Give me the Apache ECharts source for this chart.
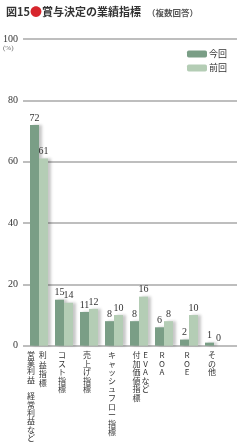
<!DOCTYPE html>
<html><head><meta charset="utf-8">
<script src="https://cdn.jsdelivr.net/npm/echarts@6/dist/echarts.min.js"></script>
<style>html,body{margin:0;padding:0;background:#fff}#c{width:252px;height:445px}</style>
</head><body><div id="c"></div>
<script>
// ---- data ----
var categories = ['利益指標', 'コスト指標', '売上げ指標', 'キャッシュフロー指標', 'EVAなど', 'ROA', 'ROE', 'その他'];
var subLabels = ['営業利益　経常利益など', '', '', '', '付加価値指標', '', '', ''];
var seriesNames = ['今回', '前回'];
var current = [72, 15, 11, 8, 8, 6, 2, 1];
var previous = [61, 14, 12, 10, 16, 8, 10, 0];
var yTicks = [0, 20, 40, 60, 80, 100];

var chart = echarts.init(document.getElementById('c'), null, {renderer: 'canvas'});
var narrow = 'Liberation Sans Narrow';
var jp = '"Noto Sans CJK JP"';

function vert(s, tag) {
  return s.split('').map(function (ch) { return '{' + tag + '|' + ch + '}'; }).join('\n');
}

var T = 39, B = 445 - 345.7;
var LF = 8, LH = 8.6;

chart.setOption({
  animation: false,
  title: {
    left: 1, top: 1,
    text: '{a|図15}{r|●}{a|賞与決定の業績指標}{s|（複数回答）}',
    textStyle: {
      rich: {
        a: {fontFamily: jp, fontWeight: 'bold', fontSize: 11, color: '#333'},
        r: {fontFamily: jp, fontSize: 12, color: '#d7262d'},
        s: {fontFamily: jp, fontSize: 8.5, color: '#555', padding: [1, 0, 0, 6]}
      }
    }
  },
  legend: {
    orient: 'vertical', right: 20, top: 44,
    itemWidth: 20, itemHeight: 7, itemGap: 4,
    textStyle: {fontFamily: jp, fontSize: 9, color: '#333', padding: [0, 0, 0, -3], lineHeight: 10},
    data: seriesNames
  },
  graphic: [{
    type: 'text', left: 3, top: 45,
    style: {text: '(%)', fontSize: 7, fill: '#666', fontFamily: narrow}
  }],
  grid: [
    {left: 19, right: 15, top: T, bottom: B},
    {left: 26.5, right: 25.5, top: T, bottom: B}
  ],
  xAxis: [
    {type: 'value', gridIndex: 0, show: false, min: 0, max: 1},
    {type: 'category', gridIndex: 1, data: categories, position: 'bottom',
      axisLine: {show: false}, axisTick: {show: false},
      axisLabel: {interval: 0, margin: 5, color: '#333', fontFamily: jp, fontSize: LF,
        formatter: function (v, i) {
          return vert(v, i === 0 ? 'r' : (subLabels[i] ? 'e' : 'c'));
        },
        rich: {
          r: {fontFamily: jp, fontSize: LF, lineHeight: 9.3, padding: [0, 0, 0, 7.5], color: '#333'},
          e: {fontFamily: jp, fontSize: LF, lineHeight: LH, padding: [0, 0, 0, 13], color: '#333'},
          c: {fontFamily: jp, fontSize: LF, lineHeight: LH, padding: [0, 4, 0, 0], color: '#333'}
        }
      }},
    {type: 'category', gridIndex: 1, data: subLabels, position: 'bottom',
      axisLine: {show: false}, axisTick: {show: false},
      axisLabel: {interval: 0, margin: 5, color: '#333', fontFamily: jp, fontSize: LF,
        formatter: function (v, i) {
          if (!v) return '';
          return vert(v, i === 0 ? 'l' : 'm');
        },
        rich: {
          l: {fontFamily: jp, fontSize: LF, lineHeight: 8.3, padding: [0, 16, 0, 0], color: '#333'},
          m: {fontFamily: jp, fontSize: LF, lineHeight: LH, padding: [0, 5, 0, 0], color: '#333'}
        }
      }}
  ],
  yAxis: [
    {type: 'value', gridIndex: 0, min: 0, max: 100, interval: 20,
      axisLine: {show: false}, axisTick: {show: false},
      splitLine: {show: true, lineStyle: {color: '#a8a8a8', width: 1.5}},
      axisLabel: {margin: 5, color: '#333', fontFamily: narrow, fontSize: 10,
        formatter: function (v) { return yTicks.indexOf(v) >= 0 ? String(v) : ''; }}},
    {type: 'value', gridIndex: 1, min: 0, max: 100, show: false}
  ],
  series: [
    {name: seriesNames[0], type: 'bar', xAxisIndex: 1, yAxisIndex: 1, data: current,
      barWidth: 9, barGap: '0%',
      itemStyle: {color: '#7a9e86', shadowColor: 'rgba(0,0,0,0.22)', shadowBlur: 3, shadowOffsetX: 3},
      label: {show: true, position: 'top', distance: 2, color: '#333', fontFamily: narrow, fontSize: 10}},
    {name: seriesNames[1], type: 'bar', xAxisIndex: 1, yAxisIndex: 1, data: previous,
      barWidth: 9, barGap: '0%',
      itemStyle: {color: '#b4cdb5', shadowColor: 'rgba(0,0,0,0.22)', shadowBlur: 3, shadowOffsetX: 3},
      label: {show: true, position: 'top', distance: 2, color: '#333', fontFamily: narrow, fontSize: 10}}
  ]
});
</script></body></html>
